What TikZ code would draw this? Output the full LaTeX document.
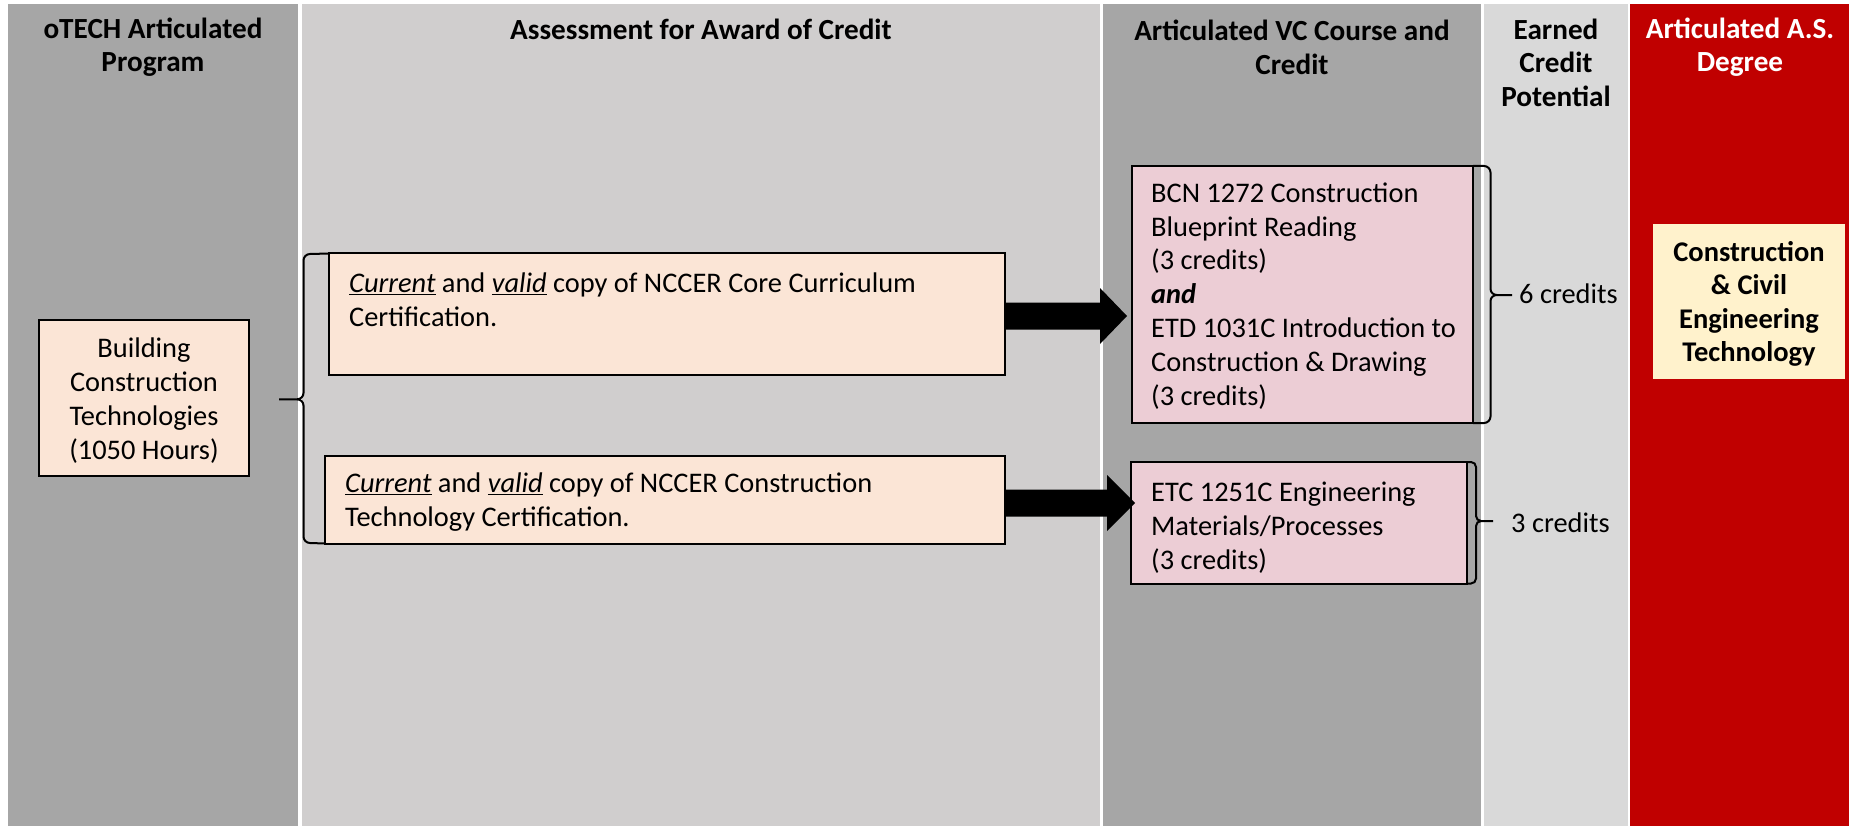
\documentclass[tikz,border=0pt]{standalone}
\usepackage{fontspec}
\setmainfont{Carlito}
\usetikzlibrary{calc}
\definecolor{colA}{HTML}{A6A6A6}
\definecolor{colB}{HTML}{D0CECE}
\definecolor{colD}{HTML}{D9D9D9}
\definecolor{colR}{HTML}{C00000}
\definecolor{peach}{HTML}{FBE5D6}
\definecolor{pinkbox}{HTML}{ECCDD5}
\definecolor{cream}{HTML}{FFF2CC}
\begin{document}
\begin{tikzpicture}[x=1pt,y=-1pt,
  hdr/.style={font=\bfseries\fontsize{29.2}{33.6}\selectfont, align=center, inner sep=0pt},
  body/.style={font=\fontsize{28.4}{33.9}\selectfont, inner sep=0pt},
  boxA/.style={draw=black, line width=2pt, fill=peach, inner sep=0pt, outer sep=0pt, anchor=north west},
  boxB/.style={draw=black, line width=2pt, fill=pinkbox, inner sep=0pt, outer sep=0pt, anchor=north west},
  bracestyle/.style={draw=black, line width=2pt},
  blockarrow/.style={fill=black},
]
\useasboundingbox (0,0) rectangle (1849,826);
\fill[white] (0,0) rectangle (1849,826);
% columns
\fill[colA] (8,4) rectangle (298,826);
\fill[colB] (302,4) rectangle (1100,826);
\fill[colA] (1103,4) rectangle (1481,826);
\fill[colD] (1484,4) rectangle (1628,826);
\fill[colR] (1630,4) rectangle (1849,826);
% headers
\node[hdr] (h1) at (153,47.2) {oTECH Articulated\\Program};
\node[hdr] (h2) at (701,29) {Assessment for Award of Credit};
\node[hdr] (h3) at (1292,47.2) {Articulated VC Course and\\Credit};
\node[hdr] (h4) at (1556,62.5) {Earned\\Credit\\Potential};
\node[hdr, text=white] (h5) at (1740,47.2) {Articulated A.S.\\Degree};
% program box
\node[boxA, minimum width=210pt, minimum height=156pt] (prog) at (39,320) {};
\node[body, align=center] (progt) at (144,400.5) {Building\\Construction\\Technologies\\(1050 Hours)};
% assessment boxes
\node[boxA, minimum width=676pt, minimum height=121pt] (a1) at (329,253.5) {};
\node[body, anchor=west, align=left] (a1t) at (349,299.8)
  {\underline{\textit{Current}} and \underline{\textit{valid}} copy of NCCER Core Curriculum\\Certification.};
\node[boxA, minimum width=680pt, minimum height=87.5pt] (a2) at (325,456) {};
\node[body, anchor=west, align=left] (a2t) at (345,501.7)
  {\underline{\textit{Current}} and \underline{\textit{valid}} copy of NCCER Construction\\Technology Certification.};
% left brace
\coordinate (lt) at (279,399.3);
\draw[bracestyle] (a1.north west) -- (310,254) to[out=180,in=90] (303.5,260.5) -- (303.5,393) to[out=-90,in=0] (297,399.3) -- (lt);
\draw[bracestyle] (297,399.3) to[out=0,in=90] (303.5,405.5) -- (303.5,536.5) to[out=-90,in=180] (310,543) -- (a2.south west);
% course boxes
\node[boxB, minimum width=341pt, minimum height=257pt] (b1) at (1132,166) {};
\node[body, anchor=west, align=left] (b1t) at (1151,296)
  {BCN 1272 Construction\\Blueprint Reading\\(3 credits)\\\textbf{\textit{and}}\\ETD 1031C Introduction to\\Construction \& Drawing\\(3 credits)};
\node[boxB, minimum width=336pt, minimum height=121.5pt] (b2) at (1131,462) {};
\node[body, anchor=west, align=left] (b2t) at (1151,527.5)
  {ETC 1251C Engineering\\Materials/Processes\\(3 credits)};
% block arrows
\coordinate (t1) at (1127,316);
\fill[blockarrow] ($(a1.east|-t1)+(-1,-13.5)$) -- (1100,302.5) -- (1100,288) -- (t1) -- (1100,344) -- (1100,329.5) -- ($(a1.east|-t1)+(-1,13.5)$) -- cycle;
\coordinate (t2) at (1135,503);
\fill[blockarrow] ($(a2.east|-t2)+(-1,-13.5)$) -- (1107,489.5) -- (1107,475) -- (t2) -- (1107,531) -- (1107,516.5) -- ($(a2.east|-t2)+(-1,13.5)$) -- cycle;
% right braces
\coordinate (rt1) at (1512,295);
\draw[bracestyle] (b1.north east) -- (1484,166) to[out=0,in=90] (1490.5,172.5) -- (1490.5,289) to[out=-90,in=180] (1497,295) -- (rt1);
\draw[bracestyle] (1497,295) to[out=180,in=90] (1490.5,301) -- (1490.5,416.5) to[out=-90,in=0] (1484,423) -- (b1.south east);
\node[body, anchor=west] (c6) at (1519,293.5) {6 credits};
\coordinate (rt2) at (1493,521);
\draw[bracestyle] (b2.north east) -- (1471,462) to[out=0,in=90] (1476,467) -- (1476,516) to[out=-90,in=180] (1481,521) -- (rt2);
\draw[bracestyle] (1481,521) to[out=180,in=90] (1476,526) -- (1476,578.5) to[out=-90,in=0] (1471,583.5) -- (b2.south east);
\node[body, anchor=west] (c3) at (1511,522.5) {3 credits};
% degree box
\node[fill=cream, minimum width=192pt, minimum height=155pt, inner sep=0pt, anchor=north west] (deg) at (1653,224) {};
\node[font=\bfseries\fontsize{28.5}{33.4}\selectfont, align=center, inner sep=0pt] (degt) at (1749,304)
  {Construction\\\& Civil\\Engineering\\Technology};
\end{tikzpicture}
\end{document}
